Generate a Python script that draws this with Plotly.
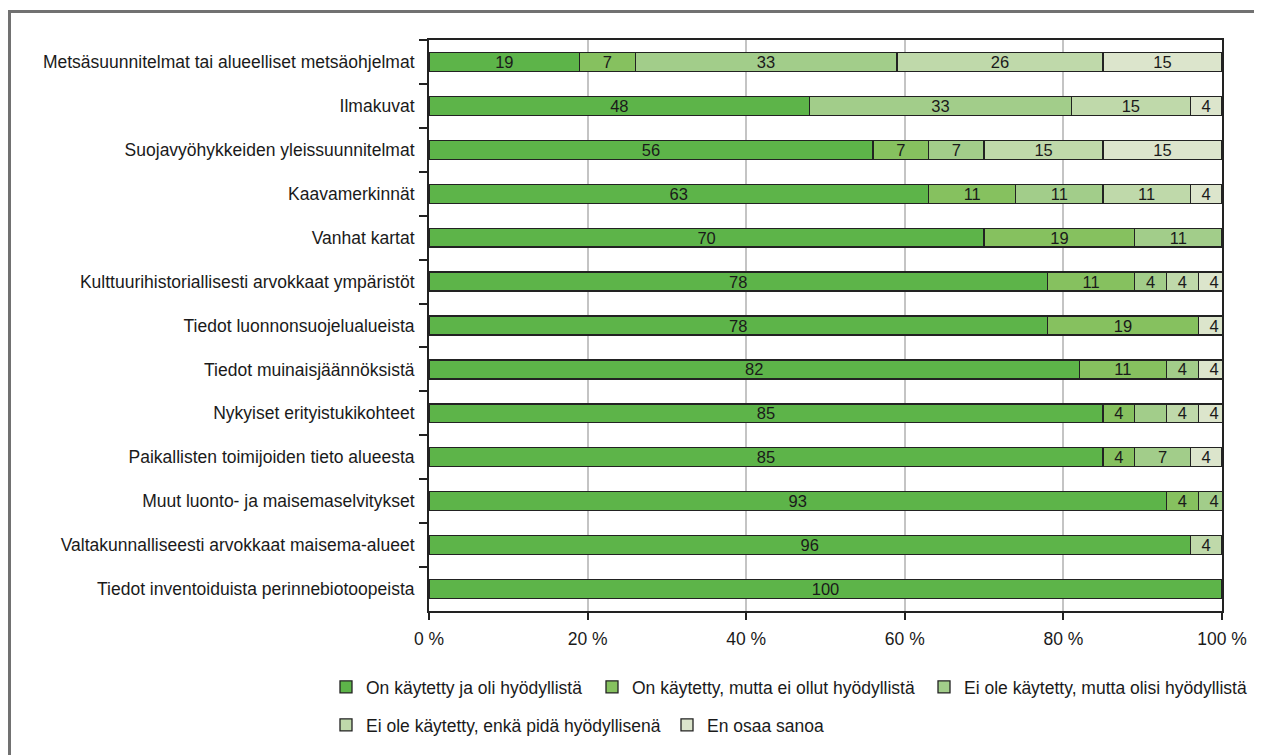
import plotly.graph_objects as go

# Categories top to bottom
categories = [
    "Metsäsuunnitelmat tai alueelliset metsäohjelmat",
    "Ilmakuvat",
    "Suojavyöhykkeiden yleissuunnitelmat",
    "Kaavamerkinnät",
    "Vanhat kartat",
    "Kulttuurihistoriallisesti arvokkaat ympäristöt",
    "Tiedot luonnonsuojelualueista",
    "Tiedot muinaisjäännöksistä",
    "Nykyiset erityistukikohteet",
    "Paikallisten toimijoiden tieto alueesta",
    "Muut luonto- ja maisemaselvitykset",
    "Valtakunnalliseesti arvokkaat maisema-alueet",
    "Tiedot inventoiduista perinnebiotoopeista",
]

series_names = [
    "On käytetty ja oli hyödyllistä",
    "On käytetty, mutta ei ollut hyödyllistä",
    "Ei ole käytetty, mutta olisi hyödyllistä",
    "Ei ole käytetty, enkä pidä hyödyllisenä",
    "En osaa sanoa",
]

used_useful = [19, 48, 56, 63, 70, 78, 78, 82, 85, 85, 93, 96, 100]
used_not_useful = [7, None, 7, 11, 19, 11, 19, 11, 4, 4, 4, None, None]
not_used_would_be = [33, 33, 7, 11, 11, 4, None, 4, 4, 7, 4, None, None]
not_used_not_useful = [26, 15, 15, 11, None, 4, None, None, 4, None, None, 4, None]
dont_know = [15, 4, 15, 4, None, 4, 4, 4, 4, 4, None, None, None]

series_values = [used_useful, used_not_useful, not_used_would_be,
                 not_used_not_useful, dont_know]

# segment drawn without a value label in the original
unlabeled = {(2, "Nykyiset erityistukikohteet")}

colors = ["#5db449", "#86c15f", "#a2cd8a", "#bfd9aa", "#dce5cc"]

FONT = "Liberation Sans, Arial, sans-serif"
FS = 17.5

# the page puts the figure 8px in from the top left corner;
# geometry below is given in page pixels and converted
OFF = 8
W, H = 1262 - OFF, 755 - OFF
L, R, T, B = 429 - OFF, 40, 40 - OFF, 755 - 611
PW, PH = W - L - R, H - T - B


def px_x(p):
    return (p - OFF - L) / PW


def px_y(q):
    return (H - B - (q - OFF)) / PH


# one legend box per series so the two legend rows line up like the original
legend_pos = [(326, 669), (592, 669), (924, 669), (326, 707), (667, 707)]
legend_ids = ["legend", "legend2", "legend3", "legend4", "legend5"]

fig = go.Figure()

for i, (name, vals) in enumerate(zip(series_names, series_values)):
    text = []
    for cat, v in zip(categories, vals):
        if v is None or (i, cat) in unlabeled:
            text.append("")
        else:
            text.append(str(v))
    fig.add_trace(go.Bar(
        y=categories,
        x=vals,
        name=name,
        orientation="h",
        width=0.43,
        marker=dict(color=colors[i], line=dict(color="#222222", width=1.3)),
        text=text,
        texttemplate="%{text}",
        textposition="inside",
        insidetextanchor="middle",
        textangle=0,
        constraintext="none",
        textfont=dict(family=FONT, size=16.5, color="#1a1a1a"),
        legend=legend_ids[i],
        showlegend=True,
        hovertemplate="<b>%{y}</b><br>" + name + ": %{x} %<extra></extra>",
    ))

legends = {}
for lid, (lx, ly) in zip(legend_ids, legend_pos):
    legends[lid] = dict(
        orientation="h", x=px_x(lx), y=px_y(ly),
        xanchor="left", yanchor="top",
        font=dict(family=FONT, size=FS, color="#1a1a1a"),
        bgcolor="rgba(0,0,0,0)",
    )

fig.update_layout(
    barmode="stack",
    width=W,
    height=H,
    showlegend=True,
    margin=dict(l=L, r=R, t=T, b=B, autoexpand=False),
    paper_bgcolor="white",
    plot_bgcolor="white",
    font=dict(family=FONT, size=FS, color="#1a1a1a"),
    shapes=[dict(
        type="rect", xref="paper", yref="paper",
        x0=px_x(9.5), x1=px_x(1320), y0=px_y(820), y1=px_y(11.5),
        line=dict(color="#717171", width=3), fillcolor="rgba(0,0,0,0)",
        layer="below",
    )],
    **legends,
)

fig.update_xaxes(
    range=[0, 100],
    tickvals=[0, 20, 40, 60, 80, 100],
    ticktext=["0 %", "20 %", "40 %", "60 %", "80 %", "100 %"],
    showgrid=True, gridcolor="#c4c4c4", gridwidth=2,
    showline=True, linecolor="#222222", linewidth=2, mirror=True,
    ticks="outside", ticklen=7, tickwidth=2, tickcolor="#222222",
    ticklabelstandoff=4,
    tickfont=dict(family=FONT, size=FS),
    zeroline=False,
)

fig.update_yaxes(
    autorange="reversed",
    showline=True, linecolor="#222222", linewidth=2, mirror=True,
    ticks="outside", ticklen=8, tickwidth=2, tickcolor="#222222",
    tickson="boundaries",
    showgrid=False,
    ticklabelstandoff=9,
    tickfont=dict(family=FONT, size=FS),
)

fig.write_html("out.html")
